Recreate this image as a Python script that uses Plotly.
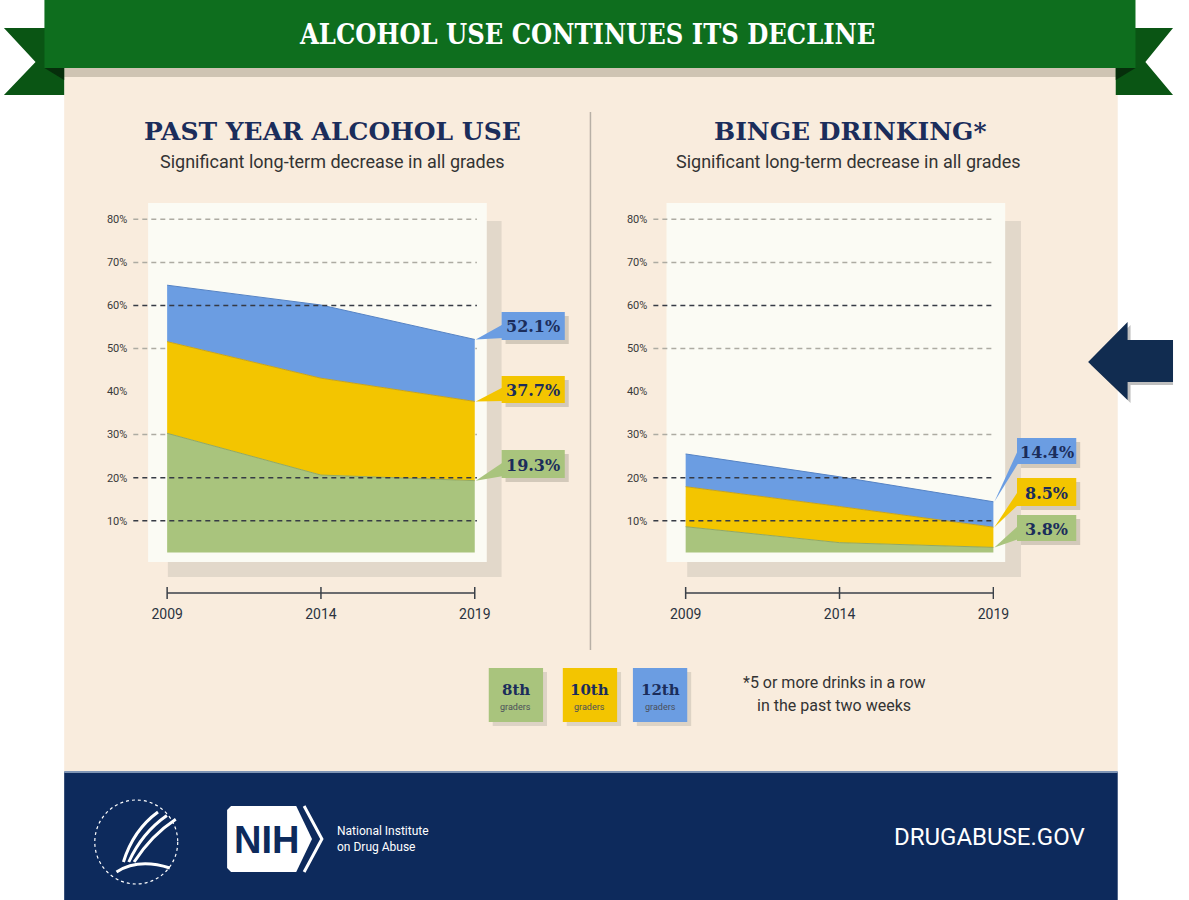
import plotly.graph_objects as go

# ---------------- data ----------------
years = [2009, 2014, 2019]
year_labels = ["2009", "2014", "2019"]
grades = ["8th", "10th", "12th"]
past_year = {"8th": [30.3, 20.6, 19.3], "10th": [51.6, 43.1, 37.7], "12th": [64.7, 60.1, 52.1]}
binge = {"8th": [8.6, 4.9, 3.8], "10th": [17.9, 13.3, 8.5], "12th": [25.5, 20.2, 14.4]}
pct_ticks = [10, 20, 30, 40, 50, 60, 70, 80]
pct_labels = ["10%", "20%", "30%", "40%", "50%", "60%", "70%", "80%"]
grid_values = [80, 70, 60, 50, 30, 20, 10]
grid_dark = [60, 20, 10]

# ---------------- styles ----------------
W, H = 1189, 900
def X(px): return px / W
def Y(py): return 1 - py / H

COL = {"8th": "#A9C47D", "10th": "#F3C500", "12th": "#6B9DE2"}
EDGE = {"8th": "#8FA866", "10th": "#C9A418", "12th": "#5683C4"}
NAVY = "#1B2D5B"
BEIGE = "#F9ECDD"
SERIF = "DejaVu Serif, serif"
SERIF_C = "DejaVu Serif Condensed, DejaVu Serif, serif"
SANS = "Roboto, Liberation Sans, sans-serif"
SANS_N = "Roboto, Liberation Sans, sans-serif"
BASE = 2.6
YR = [-8, 84]
YDOM = [Y(598.2), Y(202.1)]
charts = [
    dict(data=past_year, xa="x", ya="y", dom=[135, 483], rng=[2007.9, 2019.07]),
    dict(data=binge, xa="x2", ya="y2", dom=[661.7, 1006.7], rng=[2007.95, 2019.02]),
]

def xpx(year, c):
    d0, d1 = c["dom"]; r0, r1 = c["rng"]
    return d0 + (year - r0) / (r1 - r0) * (d1 - d0)

def ypx(v):
    top, bot = 202.1, 598.2
    return bot - (v - YR[0]) / (YR[1] - YR[0]) * (bot - top)

fig = go.Figure()
shapes = []
ann = []

def rect(x0, y0, x1, y1, color, layer="below", line=None):
    shapes.append(dict(type="rect", xref="paper", yref="paper", x0=X(x0), x1=X(x1), y0=Y(y1), y1=Y(y0),
                       fillcolor=color, line=line or dict(width=0), layer=layer))

def poly(pts, color, layer="below", line=None):
    p = "M " + " L ".join(f"{X(a):.5f},{Y(b):.5f}" for a, b in pts) + " Z"
    shapes.append(dict(type="path", xref="paper", yref="paper", path=p, fillcolor=color,
                       line=line or dict(width=0), layer=layer))

def text(x, y, t, size, color, family=SANS, xanchor="center", bold=False):
    if bold:
        t = f"<b>{t}</b>"
    ann.append(dict(x=X(x), y=Y(y), xref="paper", yref="paper", text=t, showarrow=False,
                    font=dict(size=size, color=color, family=family), xanchor=xanchor, yanchor="middle"))

# page background pieces
rect(65, 70, 1132, 772, BEIGE)
rect(65, 66, 1132, 77, "#CFC4B3")
poly([(65, 28), (4, 28), (36, 62), (4, 95), (65, 95)], "#0A5514")
poly([(1130, 28), (1188, 28), (1160, 62), (1188, 95), (1130, 95)], "#0A5514")
poly([(45, 68), (65, 68), (65, 80)], "#062E0B")
poly([(1130, 68), (1150, 68), (1130, 80)], "#062E0B")
rect(45, 0, 1150, 68, "#0E6E1E")
text(594, 34, "ALCOHOL USE CONTINUES ITS DECLINE", 27, "white", SERIF_C, bold=True)

# footer
rect(65, 772, 1132, 900, "#0D2A5C")
rect(65, 771, 1132, 773, "#7F95B5")
text(1002, 837, "DRUGABUSE.GOV", 24, "white", SANS_N)
# NIH logo
poly([(234, 806), (300, 806), (316, 839), (300, 872), (234, 872), (230, 868), (230, 810)], "white")
shapes.append(dict(type="path", xref="paper", yref="paper",
                   path=f"M {X(308)},{Y(806)} L {X(326)},{Y(839)} L {X(308)},{Y(872)}",
                   line=dict(color="white", width=3), layer="below"))
text(270, 840, "NIH", 38, "#0D2A5C", "Liberation Sans, sans-serif", bold=True)
text(339, 831, "National Institute", 12, "white", SANS_N, xanchor="left")
text(339, 847, "on Drug Abuse", 12, "white", SANS_N, xanchor="left")
# HHS emblem (stylised)
shapes.append(dict(type="circle", xref="paper", yref="paper", x0=X(96), x1=X(180), y0=Y(884), y1=Y(800),
                   line=dict(color="white", width=1.2, dash="dot"), layer="below"))
for dx in (0, 9, 18):
    shapes.append(dict(type="path", xref="paper", yref="paper",
                       path=f"M {X(160+dx)},{Y(812+dx*0.4)} Q {X(135+dx)},{Y(830+dx*0.3)} {X(125+dx*0.6)},{Y(862)}",
                       line=dict(color="white", width=3), layer="below"))
shapes.append(dict(type="path", xref="paper", yref="paper",
                   path=f"M {X(118)},{Y(872)} Q {X(140)},{Y(858)} {X(172)},{Y(868)}",
                   line=dict(color="white", width=3), layer="below"))

# arrow at right
poly([(1105, 365), (1145, 325), (1145, 343), (1188, 343), (1188, 385), (1145, 385), (1145, 403)],
     "rgba(0,0,0,0.25)", layer="above")
poly([(1102, 362), (1142, 322), (1142, 340), (1188, 340), (1188, 382), (1142, 382), (1142, 400)],
     "#112C50", layer="above")

# divider
shapes.append(dict(type="line", xref="paper", yref="paper", x0=X(598), x1=X(598), y0=Y(112), y1=Y(650),
                   line=dict(color="#B8B0A6", width=1.5), layer="below"))

# titles
text(337, 131, "PAST YEAR ALCOHOL USE", 25, NAVY, SERIF, bold=True)
text(337, 161, "Significant long-term decrease in all grades", 18, "#333333", SANS_N)
text(861, 131, "BINGE DRINKING*", 25, NAVY, SERIF, bold=True)
text(859, 161, "Significant long-term decrease in all grades", 18, "#333333", SANS_N)

# chart panels
rect(170, 221, 508, 577, "#E2D8CA")
rect(150, 203, 493, 562, "#FBFBF4")
rect(696, 221, 1034, 577, "#E2D8CA")
rect(675, 203, 1018, 562, "#FBFBF4")

# traces and per-chart decorations
for i, c in enumerate(charts):
    xa, ya = c["xa"], c["ya"]
    fig.add_trace(go.Scatter(x=years, y=[BASE] * len(years), mode="lines", line=dict(width=0),
                             xaxis=xa, yaxis=ya, showlegend=False, hoverinfo="skip"))
    for g in grades:
        fig.add_trace(go.Scatter(x=years, y=c["data"][g], mode="lines", fill="tonexty",
                                 fillcolor=COL[g], line=dict(color=EDGE[g], width=1),
                                 xaxis=xa, yaxis=ya, name=g + " graders", showlegend=False))
    xref_dom = "x domain" if xa == "x" else "x2 domain"
    for gv in grid_values:
        dark = gv in grid_dark
        shapes.append(dict(type="line", xref=xref_dom, yref=ya, x0=0, x1=1, y0=gv, y1=gv,
                           line=dict(color="#363B45" if dark else "#ADABA2", width=1.5, dash="5px,4px"),
                           layer="above" if dark else "below"))
    # timeline
    ty = 593
    shapes.append(dict(type="line", xref=xa, yref="paper", x0=years[0], x1=years[-1], y0=Y(ty), y1=Y(ty),
                       line=dict(color="#3A4048", width=1.5)))
    for yv in years:
        shapes.append(dict(type="line", xref=xa, yref="paper", x0=yv, x1=yv, y0=Y(ty - 6), y1=Y(ty + 6),
                           line=dict(color="#3A4048", width=1.5)))

# callouts
callouts = [
    (0, "12th", 508, 572, 312, 340), (0, "10th", 508, 572, 376, 403), (0, "8th", 508, 572, 450, 478),
    (1, "12th", 1030, 1090, 438, 464), (1, "10th", 1030, 1090, 478, 506), (1, "8th", 1030, 1090, 515, 541),
]
for ci, g, bx0, bx1, by0, by1 in callouts:
    c = charts[ci]
    v = c["data"][g][-1]
    tx, ty = xpx(years[-1], c) + 1, ypx(v)
    rect(bx0 + 4, by0 + 4, bx1 + 4, by1 + 4, "#D3C9BA", layer="above")
    poly([(tx, ty), (bx0 + 2, by1 - 16), (bx0 + 2, by1 - 2)], COL[g], layer="above")
    rect(bx0, by0, bx1, by1, COL[g], layer="above")
    text((bx0 + bx1) / 2, (by0 + by1) / 2 + 1, f"{v:.1f}%", 16, NAVY, SERIF, bold=True)

# legend
for g, x0 in zip(grades, [495, 570, 641]):
    rect(x0 + 4, 672, x0 + 59, 726, "#DDD3C5")
    rect(x0, 668, x0 + 55, 722, COL[g])
    text(x0 + 27.5, 690, g, 15, NAVY, SERIF, bold=True)
    text(x0 + 27.5, 707, "graders", 9, "#4A4F5A", SANS_N)

text(845, 682, "*5 or more drinks in a row", 16, "#333333", SANS)
text(845, 705, "in the past two weeks", 16, "#333333", SANS)

axis_common = dict(showgrid=False, zeroline=False, showline=False, fixedrange=True)
layout = dict(
    width=W, height=H, autosize=False, margin=dict(l=0, r=0, t=0, b=0, pad=0),
    paper_bgcolor="white", plot_bgcolor="rgba(0,0,0,0)",
    shapes=shapes, annotations=ann, showlegend=False,
)
for i, c in enumerate(charts):
    sfx = "" if i == 0 else "2"
    layout["xaxis" + sfx] = dict(domain=[X(c["dom"][0]), X(c["dom"][1])], range=c["rng"],
                                  tickvals=years, ticktext=year_labels, ticks="",
                                  tickfont=dict(size=14, color="#2B3340", family=SANS_N),
                                  anchor="y" + sfx, ticklabelstandoff=6, **axis_common)
    layout["yaxis" + sfx] = dict(domain=YDOM, range=YR, tickvals=pct_ticks, ticktext=pct_labels, ticks="",
                                  tickfont=dict(size=11, color="#3A3A3A", family=SANS_N),
                                  anchor="x" + sfx, ticklabelstandoff=5, **axis_common)
fig.update_layout(**layout)
fig.write_html(
    "out.html", config={"displayModeBar": False, "responsive": False},
    post_script=("document.documentElement.style.margin='0';document.documentElement.style.padding='0';"
                 "document.documentElement.style.overflow='hidden';"
                 "document.body.style.margin='0';document.body.style.padding='0';"
                 "document.body.style.overflow='hidden';"
                 "document.querySelectorAll('svg').forEach(function(s){s.style.overflow='hidden';});"))
